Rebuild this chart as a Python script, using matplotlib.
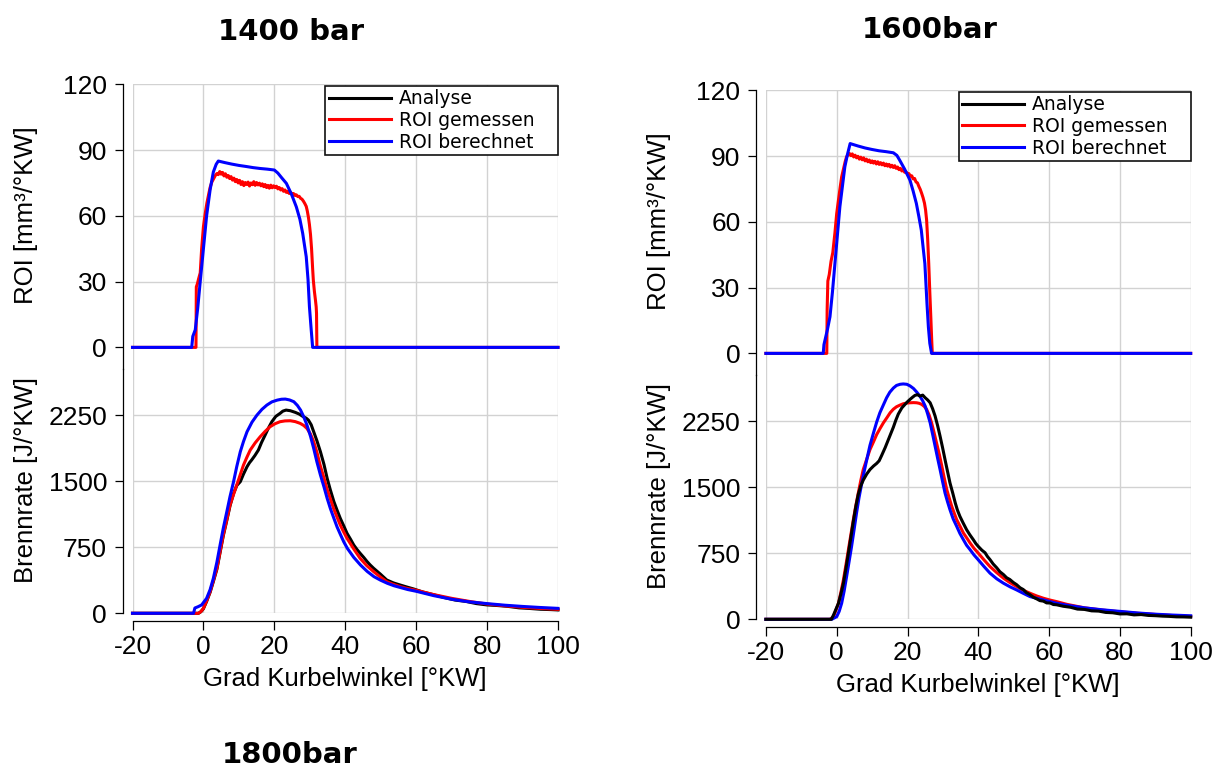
import matplotlib
matplotlib.use("Agg")
import matplotlib.pyplot as plt
from matplotlib.lines import Line2D

# ---------------------------------------------------------------- data
x_ticks = [-20, 0, 20, 40, 60, 80, 100]
roi_ticks = [0, 30, 60, 90, 120]
br_ticks = [0, 750, 1500, 2250]

titles = ["1400 bar", "1600bar", "1800bar"]
legend_labels = ["Analyse", "ROI gemessen", "ROI berechnet"]
x_label = "Grad Kurbelwinkel [°KW]"
roi_label = "ROI [mm³/°KW]"
br_label = "Brennrate [J/°KW]"

# ---- 1400 bar: rate of injection, measured
roi14_gem_x = [-20, -2.1, -2.0, -1.7, -1.4, -0.9, -0.5, 0.0, 0.5, 1.0, 1.5, 1.9, 2.4, 2.9, 3.4, 3.8,
               4.2, 4.6, 5.0, 5.4, 5.8, 6.2, 6.6, 7.0, 7.4, 7.8,
               8.2, 8.6, 9.0, 9.4, 9.8, 10.2, 10.6, 11.0, 11.4, 11.8,
               12.2, 12.6, 13.0, 13.4, 13.8, 14.2, 14.6, 15.0, 15.4, 15.8,
               16.2, 16.6, 17.0, 17.4, 17.8, 18.2, 18.6, 19.0, 19.4, 19.8,
               20.2, 20.6, 21.0, 21.4, 21.8, 22.2, 22.6, 23.0, 23.4, 23.8,
               24.2, 24.6, 25.0, 25.4, 25.8, 26.2, 26.6, 27.0, 27.4, 27.8,
               28.2, 28.6, 29.0, 29.3, 29.6, 29.9, 30.2, 30.5, 30.8, 31.0, 31.3, 31.6, 31.8, 31.9, 32.0, 100]
roi14_gem_y = [0, 0, 27.6, 29.0, 31.0, 34.0, 45.0, 55.0, 61.0, 66.0, 70.0, 73.0, 75.5, 77.0, 78.5, 79.3,
               78.8, 80.2, 79.0, 79.8, 78.2, 79.2, 77.6, 78.4, 77.0, 77.9,
               76.3, 77.2, 75.6, 76.6, 75.0, 76.2, 74.3, 75.6, 73.8, 75.2,
               74.3, 75.4, 73.6, 75.0, 74.2, 75.6, 73.9, 75.2, 74.1, 74.9,
               73.7, 74.6, 73.3, 74.3, 72.9, 73.9, 72.6, 74.0, 72.8, 73.7,
               72.9, 73.5, 72.3, 72.9, 71.8, 72.4, 71.2, 71.8, 70.7, 71.2,
               70.2, 70.7, 69.8, 70.2, 69.3, 69.6, 68.8, 68.9, 68.0, 67.6,
               66.7, 65.6, 64.3, 62.2, 59.5, 56.0, 51.5, 45.0, 36.0, 30.6, 25.5, 21.5, 18.5, 15.5, 0, 0]

# ---- 1400 bar: rate of injection, calculated
roi14_ber_x = [-20, -3.3, -3.0, -2.3, -1.6, -0.9, 0.0, 0.9, 1.9, 2.8, 3.6, 4.2, 6.0, 8.0, 10.0, 12.1,
               14.0, 16.0, 18.0, 20.0, 21.0, 22.0, 23.4, 24.8, 26.2, 27.2, 28.0, 29.0, 29.5, 29.9,
               30.4, 30.8, 100]
roi14_ber_y = [0, 0, 5, 8, 18, 30, 45, 60, 72, 80, 83.5, 85, 84.3, 83.6, 83.0, 82.5,
               82.0, 81.6, 81.3, 80.9, 79.5, 77.5, 74.8, 70, 64.1, 58.5, 52, 41.3, 31, 18.5,
               8, 0, 0]

# ---- 1400 bar: heat release rate
br14_ana_x = [-20, -1.4, -0.7, 0.0, 0.9, 1.9, 2.8, 3.8, 4.7, 5.6,
              6.6, 7.5, 8.5, 9.4, 10.4, 11.3, 12.3, 13.0, 13.6, 14.5,
              15.5, 16.4, 17.4, 18.3, 19.3, 20.4, 21.6, 22.4, 23.3, 24.5,
              25.9, 27.0, 28.2, 29.0, 29.6, 30.4, 31.1, 32.0, 33.0, 34.0,
              34.9, 35.8, 36.8, 37.7, 38.6, 39.6, 40.5, 41.5, 42.4, 43.3,
              44.2, 45.2, 46.1, 47.0, 48.0, 49.9, 51.7, 53.6, 55.5, 57.4,
              59.3, 62, 65, 68, 71, 74, 77, 80, 83, 86,
              89, 92, 95, 98, 100]
br14_ana_y = [0, 0, 18, 52, 135, 240, 360, 500, 690, 880,
              1055, 1220, 1360, 1450, 1494, 1580, 1664, 1710, 1740, 1790,
              1853, 1940, 2023, 2100, 2175, 2235, 2269, 2295, 2307, 2300,
              2281, 2262, 2231, 2215, 2194, 2140, 2061, 1960, 1834, 1690,
              1532, 1400, 1267, 1170, 1078, 990, 908, 840, 775, 725,
              681, 635, 590, 550, 511, 445, 378, 345, 321, 298,
              276, 240, 210, 178, 150, 135, 110, 95, 88, 78,
              62, 55, 46, 42, 38]

br14_gem_x = [-20, -1.4, -0.7, 0.0, 0.9, 1.9, 2.8, 3.8, 4.7, 5.6,
              6.6, 7.5, 8.5, 9.4, 10.4, 11.3, 12.3, 13.2, 14.6, 16.0,
              17.4, 18.8, 20.2, 21.6, 23.0, 24.5, 25.9, 27.3, 28.3, 29.2,
              30.2, 31.1, 32.0, 32.9, 33.9, 34.8, 35.8, 36.7, 37.7, 38.6,
              39.6, 40.5, 42.4, 44.2, 46.1, 48.0, 49.9, 51.7, 53.6, 55.5,
              57.4, 60, 65, 70, 75, 80, 85, 90, 95, 100]
br14_gem_y = [0, 0, 20, 57, 140, 246, 370, 511, 700, 889,
              1065, 1229, 1350, 1456, 1575, 1683, 1775, 1853, 1935, 2004,
              2065, 2118, 2152, 2175, 2184, 2186, 2176, 2156, 2132, 2099,
              2035, 1948, 1830, 1683, 1550, 1418, 1300, 1191, 1090, 1002,
              920, 851, 730, 624, 540, 473, 412, 359, 328, 303,
              283, 262, 212, 170, 135, 105, 85, 68, 55, 45]

br14_ber_x = [-20, -2.8, -2.4, -1.5, -0.5, 0.9, 1.9, 2.8, 3.8, 4.7,
              5.6, 6.6, 7.5, 8.5, 9.4, 10.4, 11.3, 12.3, 13.7, 15.1,
              16.5, 17.9, 19.3, 20.8, 22.0, 23.1, 24.3, 25.5, 26.5, 27.4,
              28.3, 29.2, 30.2, 31.1, 32.0, 33.0, 34.0, 34.9, 35.8, 36.8,
              37.7, 38.7, 39.6, 40.6, 42.4, 44.3, 46.2, 48.1, 50.0, 51.9,
              53.8, 55.7, 57.6, 60.0, 65.0, 70.0, 75.0, 80.0, 85.0, 90.0,
              95.0, 100.0]
br14_ber_y = [0, 0, 60, 75, 95, 170, 270, 397, 580, 775,
              965, 1153, 1325, 1494, 1665, 1834, 1950, 2061, 2170, 2250,
              2315, 2364, 2400, 2420, 2430, 2432, 2422, 2402, 2360, 2307,
              2230, 2137, 2010, 1872, 1720, 1570, 1435, 1305, 1190, 1078,
              980, 889, 810, 737, 635, 548, 475, 416, 375, 340,
              312, 291, 270, 250, 200, 160, 130, 110, 92, 78,
              66, 56]

# ---- 1600 bar: rate of injection, measured
roi16_gem_x = [-20, -2.8, -2.7, -2.5, -2.1, -1.6, -1.1, -0.5, 0.0, 0.5, 1.0, 1.4, 1.9, 2.4, 2.8, 3.2,
               3.6, 4.0, 4.4, 4.8, 5.2, 5.6, 6.0, 6.4, 6.8, 7.2,
               7.6, 8.0, 8.4, 8.8, 9.2, 9.6, 10.0, 10.4, 10.8, 11.2,
               11.6, 12.0, 12.4, 12.8, 13.2, 13.6, 14.0, 14.4, 14.8, 15.2,
               15.6, 16.0, 16.4, 16.8, 17.2, 17.6, 18.0, 18.4, 18.8, 19.2,
               19.6, 20.0, 20.4, 20.8, 21.2, 21.6, 22.0, 22.4, 22.8, 23.2,
               23.6, 24.0, 24.4, 24.8, 25.1, 25.4, 25.7, 26.0, 26.3, 26.6, 26.8, 27.0, 100]
roi16_gem_y = [0, 0, 20, 33, 36, 42, 46, 55, 63.8, 70, 76, 80.5, 84, 87.5, 89.7, 90.5,
               91.2, 90.2, 91.0, 89.6, 90.4, 89.2, 89.9, 88.6, 89.5, 88.3,
               89.2, 87.8, 88.6, 87.4, 88.2, 87.0, 87.8, 86.8, 87.6, 86.4,
               87.4, 86.2, 87.0, 86.0, 86.8, 85.6, 86.4, 85.4, 86.2, 85.0,
               85.8, 84.8, 85.6, 84.4, 85.0, 83.8, 84.4, 83.2, 83.8, 82.6,
               82.8, 81.8, 82.0, 80.8, 81.0, 79.6, 79.8, 78.2, 77.8, 76.2,
               74.8, 73.0, 71.0, 68.5, 65.5, 60.8, 52.0, 41.0, 28.0, 16.0, 7.6, 0, 0]

# ---- 1600 bar: rate of injection, calculated
roi16_ber_x = [-20, -3.8, -3.6, -3.3, -2.6, -1.9, -1.2, -0.5, 0.2, 0.9,
               1.6, 2.3, 3.0, 3.8, 6.0, 8.0, 10.0, 12.0, 14.0, 16.0,
               17.0, 17.8, 19.2, 20.7, 21.6, 22.5, 23.2, 23.9, 24.4, 24.9,
               25.2, 25.5, 25.9, 26.3, 26.8, 100]
roi16_ber_y = [0, 0, 4, 6.1, 11, 16.7, 28, 41, 54, 66.9,
               76, 85.1, 90.5, 95.7, 94.6, 93.7, 93.0, 92.4, 92.0, 91.5,
               90.3, 88.1, 84, 79, 74, 68.4, 62.5, 56.2, 48.5, 41,
               32, 22.8, 12, 4.6, 0, 0]

# ---- 1600 bar: heat release rate
br16_ana_x = [-20, -1.5, -0.9, 0.5, 1.2, 1.9, 2.6, 3.3, 4.0, 4.7,
              5.4, 6.1, 6.8, 7.5, 8.5, 9.4, 10.4, 11.3, 12.0, 12.7,
              13.7, 14.6, 15.3, 16.0, 16.7, 17.4, 18.4, 19.3, 20.0, 20.7,
              21.4, 22.1, 22.8, 23.5, 24.3, 25.0, 25.7, 26.4, 27.1, 27.8,
              28.5, 29.2, 29.9, 30.6, 31.3, 32.0, 32.8, 33.5, 34.1, 34.8,
              35.7, 36.7, 37.6, 38.6, 39.3, 40.0, 41.0, 41.9, 42.6, 43.3,
              44.2, 45.2, 46.1, 47.1, 48.0, 48.9, 49.9, 50.8, 51.8, 52.7,
              53.6, 54.6, 55.5, 56.5, 57.4, 58.4, 59.3, 60.3, 61.2, 62.1,
              64, 66, 68, 70, 72, 74, 76, 78, 80, 82,
              84, 86, 88, 90, 92, 94, 96, 98, 100]
br16_ana_y = [0, 0, 49, 182, 290, 410, 575, 751, 930, 1112,
              1280, 1420, 1515, 1580, 1650, 1700, 1740, 1770, 1800, 1860,
              1950, 2040, 2110, 2180, 2260, 2330, 2400, 2440, 2470, 2496,
              2520, 2542, 2550, 2534, 2545, 2515, 2490, 2458, 2390, 2307,
              2200, 2079, 1950, 1813, 1680, 1548, 1430, 1320, 1240, 1169,
              1095, 1017, 960, 903, 860, 827, 785, 756, 712, 678,
              628, 585, 540, 508, 472, 452, 418, 394, 358, 338,
              302, 280, 252, 232, 212, 206, 186, 185, 168, 165,
              148, 137, 116, 112, 96, 93, 78, 74, 61, 62,
              50, 54, 44, 41, 36, 33, 28, 27, 24]

br16_gem_x = [-20, -1.9, -0.9, 0.5, 1.2, 1.9, 2.6, 3.3, 4.0, 4.7,
              5.4, 6.1, 6.8, 7.5, 8.5, 9.4, 10.4, 11.3, 12.3, 13.2,
              14.2, 15.1, 16.0, 16.9, 17.9, 18.8, 19.8, 20.7, 21.7, 22.6,
              23.3, 24.0, 24.7, 25.4, 26.1, 26.8, 27.5, 28.2, 29.0, 29.7,
              30.4, 31.1, 31.8, 32.5, 33.2, 33.9, 34.9, 35.8, 36.8, 37.7,
              38.8, 40.0, 41.6, 43.3, 45.2, 47.1, 49.0, 50.8, 52.7, 54.6,
              56.5, 58.4, 60.3, 62.1, 65, 70, 75, 80, 85, 90,
              95, 100]
br16_gem_y = [0, 0, 30, 182, 310, 448, 615, 789, 960, 1131,
              1290, 1434, 1575, 1700, 1820, 1927, 2015, 2098, 2170, 2231,
              2290, 2345, 2385, 2413, 2432, 2447, 2455, 2458, 2460, 2458,
              2452, 2440, 2418, 2383, 2320, 2231, 2120, 2003, 1870, 1738,
              1600, 1472, 1375, 1282, 1205, 1131, 1052, 979, 920, 865,
              805, 751, 675, 599, 530, 467, 415, 372, 330, 296,
              265, 239, 218, 201, 170, 130, 105, 85, 68, 55,
              42, 32]

br16_ber_x = [-20, -1.4, 0.0, 0.7, 1.4, 2.1, 2.8, 3.5, 4.2, 4.9,
              5.6, 6.3, 7.1, 7.8, 8.5, 9.4, 10.4, 11.3, 12.2, 13.2,
              14.1, 15.0, 16.0, 16.9, 17.9, 18.8, 19.8, 20.7, 21.7, 22.6,
              23.5, 24.3, 25.0, 25.7, 26.4, 27.1, 27.8, 28.5, 29.2, 29.9,
              30.6, 31.3, 32.0, 32.9, 33.9, 34.8, 35.8, 36.7, 37.7, 38.8,
              40.0, 41.6, 43.3, 45.2, 47.1, 49.0, 50.8, 52.7, 54.6, 56.5,
              58.4, 60.3, 62.1, 65, 70, 75, 80, 85, 90, 95,
              100]
br16_ber_y = [0, 0, 30, 90, 182, 320, 486, 655, 827, 1015,
              1206, 1380, 1548, 1685, 1813, 1975, 2117, 2240, 2345, 2435,
              2515, 2578, 2625, 2655, 2668, 2672, 2668, 2650, 2620, 2580,
              2534, 2480, 2420, 2330, 2231, 2100, 1965, 1830, 1700, 1565,
              1434, 1335, 1244, 1140, 1055, 975, 903, 840, 789, 730,
              675, 600, 524, 460, 410, 368, 334, 295, 258, 238,
              220, 200, 182, 160, 130, 108, 90, 72, 58, 48,
              40]

# ---------------------------------------------------------------- style
C_ANA, C_GEM, C_BER = "black", "#ff0000", "#0000ff"
GRID = "#d2d2d2"
LW = 2.2
TICK_FS = 19
LABEL_FS = 18.5

plt.rcParams["font.family"] = ["Liberation Sans", "DejaVu Sans"]
plt.rcParams["axes.linewidth"] = 0.9
plt.rcParams["axes.unicode_minus"] = False

W, H = 1218, 770
fig = plt.figure(figsize=(W / 100, H / 100), dpi=100)


def box(left, top, right, bottom):
    return [left / W, 1 - bottom / H, (right - left) / W, (bottom - top) / H]


def common(ax, yticks, ylim, spine_lo):
    ax.set_xlim(-20, 100)
    ax.set_ylim(*ylim)
    ax.set_xticks(x_ticks)
    ax.set_yticks(yticks)
    ax.grid(True, color=GRID, linewidth=1.0)
    ax.set_axisbelow(True)
    ax.set_facecolor("none")
    for s in ("top", "right"):
        ax.spines[s].set_visible(False)
    ax.spines["left"].set_position(("outward", 7.2))
    ax.spines["left"].set_bounds(spine_lo, ylim[1])
    ax.tick_params(axis="y", direction="out", length=5.6, width=0.9,
                   pad=5.5, labelsize=TICK_FS)


def panel(left, right, top, bottom, roi_series, br_series, label_x):
    split = top + (bottom - top) * 285.0 / 529.0
    ax_r = fig.add_axes(box(left, top, right, split))
    ax_b = fig.add_axes(box(left, split, right, bottom))

    common(ax_r, roi_ticks, (-10, 120), -10)
    ax_r.spines["bottom"].set_visible(False)
    ax_r.tick_params(axis="x", length=0, labelbottom=False)

    common(ax_b, br_ticks, (0, 2770), 0)
    ax_b.spines["bottom"].set_position(("outward", 5.8))
    ax_b.spines["bottom"].set_bounds(-20, 100)
    ax_b.tick_params(axis="x", direction="out", length=6.3, width=0.9,
                     pad=3.5, labelsize=TICK_FS)

    for xs, ys, c in roi_series:
        ax_r.plot(xs, ys, color=c, lw=LW, clip_on=False, solid_joinstyle="round")
    for xs, ys, c in br_series:
        ax_b.plot(xs, ys, color=c, lw=LW, clip_on=False, solid_joinstyle="round")

    ax_r.set_ylabel(roi_label, fontsize=LABEL_FS)
    ax_r.yaxis.set_label_coords(label_x, 0.54)
    ax_b.set_ylabel(br_label, fontsize=LABEL_FS)
    ax_b.yaxis.set_label_coords(label_x, 0.545)
    ax_b.set_xlabel(x_label, fontsize=LABEL_FS)
    ax_b.xaxis.set_label_coords(0.5, -0.222)

    handles = [Line2D([], [], color=C_ANA, lw=2.2),
               Line2D([], [], color=C_GEM, lw=2.2),
               Line2D([], [], color=C_BER, lw=2.2)]
    leg = ax_r.legend(handles, legend_labels, loc="upper right",
                      bbox_to_anchor=(0.4535, 0.0, 0.5465, 0.9955),
                      mode="expand", borderaxespad=0,
                      prop={"family": "DejaVu Sans", "size": 13.5},
                      handlelength=3.3, handletextpad=0.4, borderpad=0.2,
                      labelspacing=0.14, fancybox=False, framealpha=1,
                      edgecolor="#111111")
    leg.get_frame().set_linewidth(1.2)
    return ax_r, ax_b


panel(132.5, 558.0, 84.3, 613.3,
      [(roi14_gem_x, roi14_gem_y, C_GEM), (roi14_ber_x, roi14_ber_y, C_BER)],
      [(br14_ana_x, br14_ana_y, C_ANA), (br14_gem_x, br14_gem_y, C_GEM),
       (br14_ber_x, br14_ber_y, C_BER)],
      -0.223)

panel(765.9, 1190.7, 90.3, 619.3,
      [(roi16_gem_x, roi16_gem_y, C_GEM), (roi16_ber_x, roi16_ber_y, C_BER)],
      [(br16_gem_x, br16_gem_y, C_GEM), (br16_ber_x, br16_ber_y, C_BER),
       (br16_ana_x, br16_ana_y, C_ANA)],
      -0.223)

title_kw = dict(fontsize=21, fontweight="bold", family="DejaVu Sans",
                ha="center")
fig.text(291.5 / W, 1 - 39.5 / H, titles[0], va="baseline", **title_kw)
fig.text(929.5 / W, 1 - 37.5 / H, titles[1], va="baseline", **title_kw)
fig.text(290.0 / W, 1.0 / H, titles[2], va="bottom", **title_kw)

fig.savefig("out.png", dpi=100, facecolor="white")
